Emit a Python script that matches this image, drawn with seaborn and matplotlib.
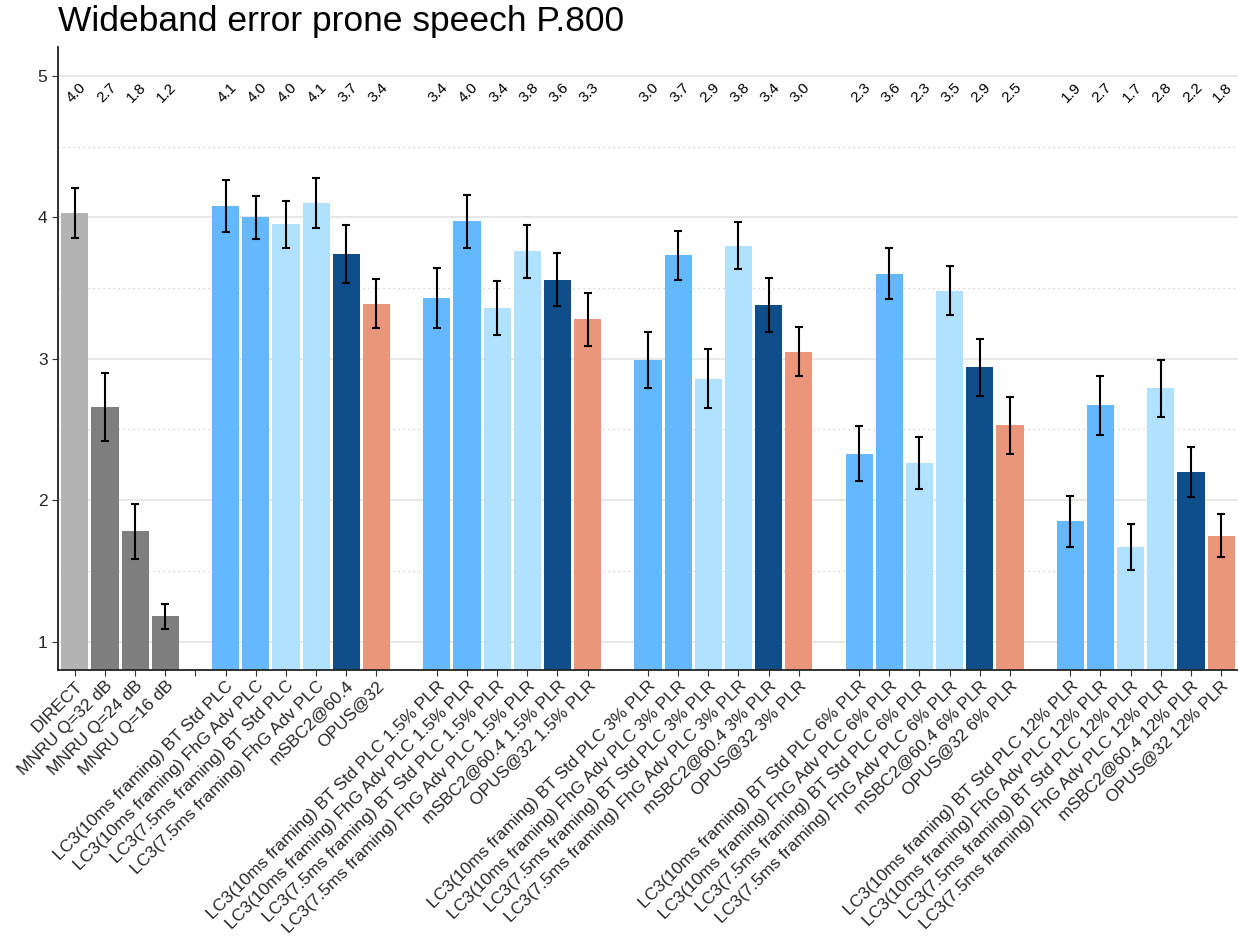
import numpy as np
import pandas as pd
import matplotlib
matplotlib.use("Agg")
import matplotlib.pyplot as plt
import seaborn as sns
from matplotlib.ticker import MultipleLocator

# ---- data -------------------------------------------------------------
reference_labels = ["DIRECT", "MNRU Q=32 dB", "MNRU Q=24 dB", "MNRU Q=16 dB"]
reference_mos = [4.03, 2.66, 1.78, 1.18]
reference_ci = [0.18, 0.24, 0.195, 0.087]

codecs = [
    "LC3(10ms framing) BT Std PLC",
    "LC3(10ms framing) FhG Adv PLC",
    "LC3(7.5ms framing) BT Std PLC",
    "LC3(7.5ms framing) FhG Adv PLC",
    "mSBC2@60.4",
    "OPUS@32",
]
loss_rates = ["", " 1.5% PLR", " 3% PLR", " 6% PLR", " 12% PLR"]

mos_0 = [4.08, 4.00, 3.95, 4.10, 3.74, 3.39]
ci_0 = [0.185, 0.152, 0.167, 0.175, 0.206, 0.175]
mos_15 = [3.43, 3.97, 3.36, 3.76, 3.56, 3.28]
ci_15 = [0.21, 0.184, 0.19, 0.188, 0.187, 0.187]
mos_3 = [2.99, 3.73, 2.86, 3.80, 3.38, 3.05]
ci_3 = [0.20, 0.172, 0.206, 0.167, 0.193, 0.174]
mos_6 = [2.33, 3.60, 2.26, 3.48, 2.94, 2.53]
ci_6 = [0.195, 0.18, 0.184, 0.173, 0.20, 0.20]
mos_12 = [1.85, 2.67, 1.67, 2.79, 2.20, 1.75]
ci_12 = [0.178, 0.21, 0.16, 0.20, 0.178, 0.155]

ref_colors = ["#B3B3B3", "#7F7F7F", "#7F7F7F", "#7F7F7F"]
codec_colors = ["#63B8FF", "#63B8FF", "#B0E2FF", "#B0E2FF", "#104E8B", "#E9967A"]

# ---- assemble the table, with a spacer slot between groups ------------
rows = []
gap_count = 0
for lab, m, c, col in zip(reference_labels, reference_mos, reference_ci, ref_colors):
    rows.append((lab, m, c, col, True))
for rate, mos, ci in zip(loss_rates, [mos_0, mos_15, mos_3, mos_6, mos_12],
                         [ci_0, ci_15, ci_3, ci_6, ci_12]):
    gap_count += 1
    rows.append((" " * gap_count, np.nan, np.nan, "#FFFFFF", gap_count == 1))
    for name, m, c, col in zip(codecs, mos, ci, codec_colors):
        rows.append((name + rate, m, c, col, True))

df = pd.DataFrame(rows, columns=["condition", "mos", "ci", "color", "tick"])
order = list(df["condition"])
palette = dict(zip(df["condition"], df["color"]))

# ---- figure -----------------------------------------------------------
sns.set_theme(style="white")
plt.rcParams["font.family"] = ["Liberation Sans", "DejaVu Sans"]

fig = plt.figure(figsize=(12.38, 9.46), dpi=100)
ax = fig.add_axes([0.0468, 0.2918, 0.953, 0.658])

sns.barplot(data=df, x="condition", y="mos", hue="condition", order=order,
            hue_order=order, palette=palette, legend=False, width=0.9,
            saturation=1, linewidth=0, ax=ax, zorder=2)

pos = np.arange(len(df))
valid = df["mos"].notna().values
ax.errorbar(pos[valid], df["mos"][valid], yerr=df["ci"][valid], fmt="none",
            ecolor="black", elinewidth=1.5, capsize=3, capthick=1.5, zorder=3)

for p, m in zip(pos[valid], df["mos"][valid]):
    ax.text(p + 0.05, 4.88, f"{m:.1f}", rotation=45, ha="center", va="center",
            fontsize=11, color="black")

ax.set_ylim(0.8, 5.2)
ax.set_xlim(-0.56, len(df) - 0.45)
ax.yaxis.set_major_locator(MultipleLocator(1))
ax.yaxis.set_minor_locator(MultipleLocator(0.5))
ax.grid(True, which="major", axis="y", color="#E3E3E3", linewidth=1.2, zorder=0)
ax.grid(True, which="minor", axis="y", color="#C8C8C8", linewidth=0.9,
        linestyle=(0, (1, 3)), zorder=0)
ax.set_axisbelow(True)

tick_pos = pos[df["tick"].values]
ax.set_xticks(tick_pos)
ax.set_xticklabels(df["condition"][df["tick"].values].str.strip(),
                   rotation=45, ha="right", va="top", rotation_mode="anchor",
                   fontsize=12.6)
ax.tick_params(axis="x", length=4, width=0.8, color="#333333", pad=2,
               bottom=True)
ax.tick_params(axis="y", length=4, width=0.8, color="#333333", labelsize=12.5,
               left=True)
ax.tick_params(axis="y", which="minor", length=0)
ax.set_xlabel("")
ax.set_ylabel("")

for side in ["top", "right"]:
    ax.spines[side].set_visible(False)
for side in ["left", "bottom"]:
    ax.spines[side].set_color("#222222")
    ax.spines[side].set_linewidth(1.3)

fig.text(0.0468, 1 - 22 / 946, "Wideband error prone speech P.800",
         fontsize=25.5, ha="left", va="center", color="black")

fig.savefig("out.png", dpi=100, facecolor="white")
